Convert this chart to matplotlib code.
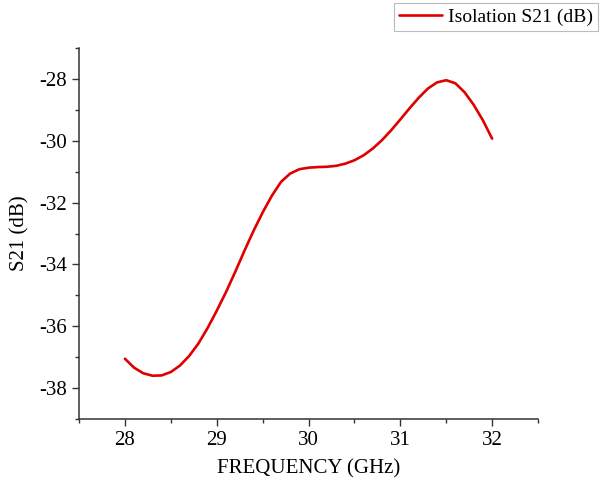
import matplotlib
matplotlib.use("Agg")
import matplotlib.pyplot as plt
from matplotlib.ticker import MultipleLocator

freq = [28.0, 28.1, 28.2, 28.3, 28.4, 28.5, 28.6, 28.7, 28.8, 28.9,
        29.0, 29.1, 29.2, 29.3, 29.4, 29.5, 29.6, 29.7, 29.8, 29.9,
        30.0, 30.1, 30.2, 30.3, 30.4, 30.5, 30.6, 30.7, 30.8, 30.9,
        31.0, 31.1, 31.2, 31.3, 31.4, 31.5, 31.6, 31.7, 31.8, 31.9, 32.0]
s21 = [-37.05, -37.34, -37.52, -37.60, -37.59, -37.48, -37.27, -36.96, -36.56, -36.06,
       -35.50, -34.90, -34.25, -33.57, -32.92, -32.32, -31.78, -31.33, -31.06, -30.92,
       -30.87, -30.85, -30.84, -30.81, -30.74, -30.63, -30.47, -30.25, -29.98, -29.66,
       -29.31, -28.95, -28.61, -28.31, -28.11, -28.04, -28.14, -28.43, -28.84, -29.34, -29.93]

xticks = [28, 29, 30, 31, 32]
yticks = [-38, -36, -34, -32, -30, -28]

plt.rcParams['font.family'] = ['Liberation Serif', 'DejaVu Serif']

fig = plt.figure(figsize=(6.0, 4.83), dpi=100)
ax = fig.add_axes([0.1317, 0.1325, 0.765, 0.768])
line, = ax.plot(freq, s21, color='#e00000', lw=1.9, label='Isolation S21 (dB)',
                solid_joinstyle='round', solid_capstyle='round')

ax.set_xlim(27.5, 32.5)
ax.set_ylim(-39, -27)
ax.set_xticks(xticks)
ax.set_yticks(yticks)
ax.set_yticklabels([str(v) for v in yticks])
ax.xaxis.set_minor_locator(MultipleLocator(0.5))
ax.yaxis.set_minor_locator(MultipleLocator(1))
ax.tick_params(which='major', direction='out', length=5, width=1, labelsize=15, color='#333333')
ax.tick_params(which='minor', direction='out', length=3, width=1, color='#333333')
for s in ['top', 'right']:
    ax.spines[s].set_visible(False)
for s in ['left', 'bottom']:
    ax.spines[s].set_color('#333333')
    ax.spines[s].set_linewidth(1.1)

ax.set_xlabel('FREQUENCY (GHz)', fontsize=15, labelpad=7)
ax.set_ylabel('S21 (dB)', fontsize=15, labelpad=7)

leg = fig.legend(handles=[line], loc='upper right', bbox_to_anchor=(0.997, 0.993),
                 fontsize=14, frameon=True, fancybox=False, handlelength=2.2,
                 borderpad=0.25, handletextpad=0.35, borderaxespad=0.0)
leg.get_frame().set_edgecolor('#aaaaaa')
leg.get_frame().set_linewidth(0.8)

fig.savefig('out.png', dpi=100)
